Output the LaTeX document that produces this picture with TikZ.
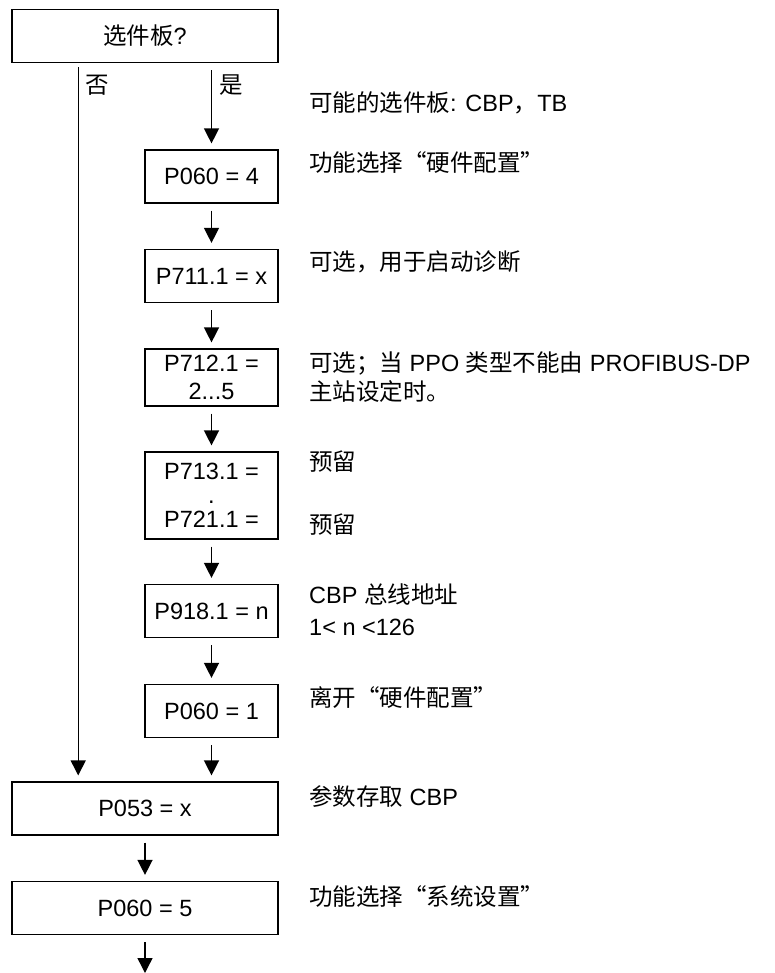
\documentclass[tikz,border=0pt]{standalone}
\usepackage{fontspec}
\setmainfont{Liberation Sans}
\newfontfamily\cjk{Noto Sans CJK SC}
\usepackage{tikz}
\usetikzlibrary{arrows.meta,calc}
\newcommand{\zh}[1]{{\cjk #1}}

\begin{document}
\begin{tikzpicture}[x=1pt,y=-1pt,
  box/.style ={draw,line width=1.2pt,minimum width=133pt,minimum height=53pt,
               inner sep=0pt,font=\fontsize{23.5}{28}\selectfont,align=center},
  wide/.style={box,minimum width=266pt},
  note/.style={anchor=west,inner sep=0pt,font=\fontsize{23.5}{28}\selectfont},
  lab/.style ={inner sep=0pt,font=\fontsize{23.5}{28}\selectfont},
  arr/.style ={-{Triangle[length=15pt,width=15pt]},line width=1.4pt,
               shorten <=7pt,shorten >=6pt},
]
\useasboundingbox (0,0) rectangle (774,973);

% main column
\node[wide] (sel) at (145,36)    {\zh{选件板}?};
\node[box]  (p1)  at (211.5,176.5) {P060 = 4};
\node[box]  (p2)  at (211.5,276)   {P711.1 = x};
\node[box,minimum height=57pt] (p3) at (211.5,377.5) {P712.1 =\\2...5};
\node[box,minimum height=87pt] (p4) at (211.5,495.5) {P713.1 =\\[-4pt].\\[-4pt]P721.1 =};
\node[box]  (p5)  at (211.5,611)   {P918.1 = n};
\node[box]  (p6)  at (211.5,711)   {P060 = 1};
\node[wide] (p7)  at (145,808.5) {P053 = x};
\node[wide] (p8)  at (145,908)   {P060 = 5};
\coordinate (out) at (145,973);

\node[lab] (no)  at (97,85)  {\zh{否}};
\node[lab] (yes) at (231,85) {\zh{是}};

% connectors
\draw[arr,shorten <=4pt] ($(sel.south west)!.25!(sel.south east)$)
  -- ($(p7.north west)!.25!(p7.north east)$);
\draw[arr] (sel.south -| p1.north) -- (p1.north);
\foreach \a/\b in {p1/p2,p2/p3,p3/p4,p4/p5,p5/p6}
  \draw[arr] (\a) -- (\b);
\draw[arr] (p6.south) -- (p6.south |- p7.north);
\draw[arr] (p7) -- (p8);
\draw[arr,shorten >=0pt] (p8) -- (out);

% notes
\node[note] (n1)  at (309,103) {\zh{可能的选件板}: CBP\zh{，}TB};
\node[note] (n2)  at (309,163) {\zh{功能选择“硬件配置”}};
\node[note] (n3)  at (309,262) {\zh{可选，用于启动诊断}};
\node[note] (n4a) at (309,363) {\zh{可选；当} PPO \zh{类型不能由} PROFIBUS-DP};
\node[note] (n4b) at (309,392) {\zh{主站设定时。}};
\node[note] (n5a) at (309,462) {\zh{预留}};
\node[note] (n5b) at (309,525) {\zh{预留}};
\node[note] (n6a) at (309,595) {CBP \zh{总线地址}};
\node[note] (n6b) at (309,627) {1< n <126};
\node[note] (n7)  at (309,698) {\zh{离开“硬件配置”}};
\node[note] (n8)  at (309,797) {\zh{参数存取} CBP};
\node[note] (n9)  at (309,897) {\zh{功能选择“系统设置”}};
\end{tikzpicture}
\end{document}
